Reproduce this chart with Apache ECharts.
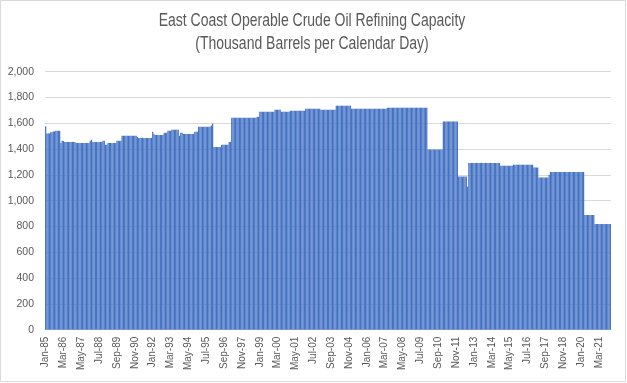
<!DOCTYPE html>
<html>
<head>
<meta charset="utf-8">
<script src="https://cdn.jsdelivr.net/npm/echarts@6/dist/echarts.min.js"></script>
<style>html,body{margin:0;padding:0;background:#fff}#c{width:627px;height:383px}</style>
</head>
<body>
<div id="c"></div>
<script>
const titleLines = ['East Coast Operable Crude Oil Refining Capacity', '(Thousand Barrels per Calendar Day)'];
const monthNames = ['Jan','Feb','Mar','Apr','May','Jun','Jul','Aug','Sep','Oct','Nov','Dec'];
const firstYear = 1985;
const lastYear = 2021;
const yTicks = [0, 200, 400, 600, 800, 1000, 1200, 1400, 1600, 1800, 2000];
// Monthly capacity, Jan-85 .. Dec-21 (thousand b/cd)
const capacity = [
1578,1521,1521,1521,1531,1531,1537,1537,1542,1542,1542,1542,
1448,1464,1464,1456,1456,1456,1456,1456,1456,1456,1456,1456,
1448,1448,1448,1448,1448,1448,1448,1448,1448,1448,1448,1464,
1472,1456,1456,1456,1456,1456,1456,1456,1456,1464,1464,1433,
1433,1448,1448,1448,1448,1448,1448,1448,1464,1464,1464,1464,
1503,1503,1503,1503,1503,1503,1503,1503,1503,1503,1503,1503,
1495,1487,1487,1487,1487,1487,1487,1487,1487,1487,1487,1487,
1534,1518,1510,1510,1510,1510,1510,1510,1510,1526,1526,1526,
1542,1542,1542,1550,1550,1550,1550,1550,1550,1503,1526,1526,
1518,1518,1518,1518,1518,1518,1518,1518,1518,1534,1534,1534,
1573,1573,1573,1573,1573,1573,1573,1573,1573,1573,1583,1596,
1417,1417,1417,1417,1417,1417,1433,1433,1433,1433,1433,1433,
1456,1456,1643,1643,1643,1643,1643,1643,1643,1643,1643,1643,
1643,1643,1643,1643,1643,1643,1643,1643,1643,1643,1650,1650,
1689,1689,1689,1689,1689,1689,1689,1689,1689,1689,1689,1689,
1705,1705,1705,1705,1705,1689,1689,1689,1689,1689,1689,1689,
1697,1697,1697,1697,1697,1697,1697,1697,1697,1697,1697,1697,
1713,1713,1713,1713,1713,1713,1713,1713,1713,1713,1713,1713,
1705,1705,1705,1705,1705,1705,1705,1705,1705,1705,1705,1705,
1736,1736,1736,1736,1736,1736,1736,1736,1736,1736,1736,1736,
1713,1713,1713,1713,1713,1713,1713,1713,1713,1713,1713,1713,
1713,1713,1713,1713,1713,1713,1713,1713,1713,1713,1713,1713,
1713,1713,1713,1713,1721,1721,1721,1721,1721,1721,1721,1721,
1721,1721,1721,1721,1721,1721,1721,1721,1721,1721,1721,1721,
1721,1721,1721,1721,1721,1721,1721,1721,1721,1721,1721,1721,
1397,1397,1397,1397,1397,1397,1397,1397,1397,1397,1397,1397,
1614,1614,1614,1614,1614,1614,1614,1614,1614,1614,1614,1614,
1187,1187,1187,1187,1187,1187,1187,1109,1293,1293,1293,1293,
1293,1293,1293,1293,1293,1293,1293,1293,1293,1293,1293,1293,
1293,1293,1293,1293,1293,1293,1293,1293,1293,1271,1271,1271,
1271,1271,1271,1271,1271,1271,1271,1279,1279,1279,1279,1279,
1279,1279,1279,1279,1279,1279,1279,1279,1279,1279,1279,1257,
1257,1257,1257,1180,1180,1180,1180,1180,1180,1180,1180,1200,
1223,1223,1223,1223,1223,1223,1223,1223,1223,1223,1223,1223,
1223,1223,1223,1223,1223,1223,1223,1223,1223,1223,1223,1223,
1223,1223,1223,889,889,889,889,889,889,889,889,819,
819,819,819,819,819,819,819,819,819,819,819,819
];
const categories = [];
for (let y = firstYear; y <= lastYear; y++) {
  for (let m = 0; m < 12; m++) categories.push(monthNames[m] + '-' + String(y % 100).padStart(2, '0'));
}

const font = '"Liberation Sans", Arial, sans-serif';
const chart = echarts.init(document.getElementById('c'), null, {renderer: 'canvas'});
chart.setOption({
  animation: false,
  backgroundColor: '#fff',
  graphic: [{
    type: 'rect', shape: {x: 0.5, y: 0.5, width: 625, height: 381},
    style: {fill: 'none', stroke: '#d9d9d9', lineWidth: 1}, silent: true
  }, {
    type: 'text', x: 312, y: 21, scaleX: 0.8, silent: true,
    style: {text: titleLines[0], fontFamily: font, fontSize: 17.5, fill: '#595959', align: 'center', verticalAlign: 'middle'}
  }, {
    type: 'text', x: 312, y: 44, scaleX: 0.8, silent: true,
    style: {text: titleLines[1], fontFamily: font, fontSize: 17.5, fill: '#595959', align: 'center', verticalAlign: 'middle'}
  }],
  grid: {left: 45, right: 16, top: 71.7, bottom: 53.3, containLabel: false},
  xAxis: {
    type: 'category',
    data: categories,
    axisLine: {show: true, lineStyle: {color: '#d9d9d9', width: 1}},
    axisTick: {show: false},
    axisLabel: {
      interval: 13, rotate: 90, margin: 7,
      color: '#595959', fontFamily: font, fontSize: 10
    }
  },
  yAxis: {
    type: 'value',
    min: yTicks[0], max: yTicks[yTicks.length - 1], interval: 200,
    axisLine: {show: false},
    axisTick: {show: false},
    splitLine: {lineStyle: {color: '#d9d9d9', width: 1}},
    axisLabel: {
      margin: 11, color: '#595959', fontFamily: font, fontSize: 10.5,
      formatter: v => v.toLocaleString('en-US')
    }
  },
  series: [{
    type: 'bar',
    data: capacity,
    barCategoryGap: '4%',
    itemStyle: {color: '#4472C4'},
    large: false
  }]
});
</script>
</body>
</html>
